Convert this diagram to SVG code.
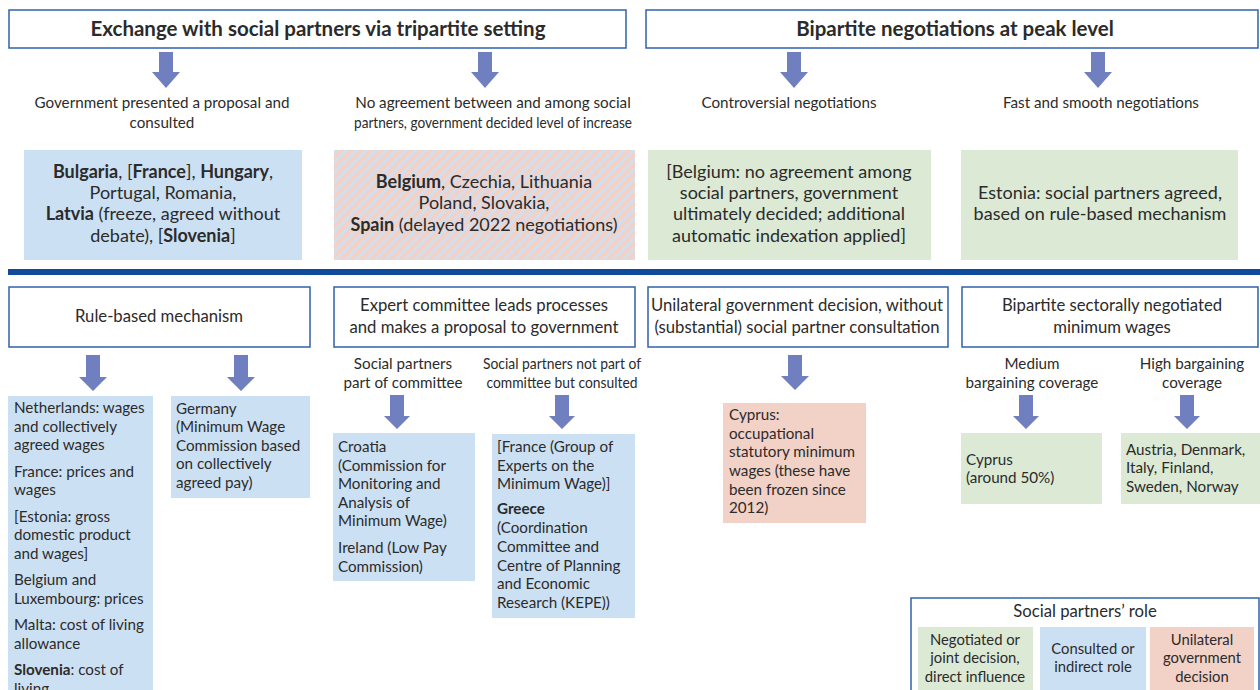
<svg xmlns="http://www.w3.org/2000/svg" width="1260" height="690" viewBox="0 0 1260 690">
<defs>
<pattern id="hatch" width="7" height="7" patternUnits="userSpaceOnUse" patternTransform="rotate(45)">
<rect width="7" height="7" fill="#f2d1c7"/>
<rect width="2.6" height="7" fill="#cfe0f2"/>
</pattern>
</defs>
<style>
text{font-family:Lato,"Liberation Sans",sans-serif;fill:#2b2b2b}
.hdr{fill:#fff;stroke:#2f62ab;stroke-width:1.5}
.title{font-size:20.5px;font-weight:bold;text-anchor:middle}
.sub{font-size:15.2px;text-anchor:middle}
.mid{font-size:18px;text-anchor:middle}
.h2{font-size:16.7px;text-anchor:middle}
.c{font-size:15.2px}
.b{font-weight:bold}
.blue{fill:#cce0f3}
.green{fill:#dbe9d5}
.pink{fill:#f2d1c7}
.arrow{fill:#6f7fbf}
.lg{font-size:14.8px;text-anchor:middle}
</style>
<rect width="1260" height="690" fill="#fff"/>

<g id="connectors">
<path class="arrow" d="M159,52H173V72H180L166,88L152,72H159Z"/>
<path class="arrow" d="M478,52H492V72H499L485,88L471,72H478Z"/>
<path class="arrow" d="M787,52H801V72H808L794,88L780,72H787Z"/>
<path class="arrow" d="M1091,52H1105V72H1112L1098,88L1084,72H1091Z"/>
<path class="arrow" d="M86,355H100V377H107L93,391L79,377H86Z"/>
<path class="arrow" d="M234,355H248V377H255L241,391L227,377H234Z"/>
<path class="arrow" d="M390,395H404V416H410L397,429L384,416H390Z"/>
<path class="arrow" d="M555,395H569V416H575L562,429L549,416H555Z"/>
<path class="arrow" d="M788,355H802V376H809L795,390L781,376H788Z"/>
<path class="arrow" d="M1019,395H1033V416H1039L1026,429L1013,416H1019Z"/>
<path class="arrow" d="M1180,395H1194V416H1200L1187,429L1174,416H1180Z"/>
</g>

<g id="tripartite">
<rect class="hdr" x="9" y="10" width="617" height="38"/>
<text class="title" x="318" y="36">Exchange with social partners via tripartite setting</text>
</g>
<g id="bipartite-peak">
<rect class="hdr" x="646" y="10" width="612" height="38"/>
<text class="title" x="955" y="36">Bipartite negotiations at peak level</text>
</g>

<g id="label-gov-proposal">
<text class="sub" x="162" y="108">Government presented a proposal and</text>
<text class="sub" x="162" y="128">consulted</text>
</g>
<g id="label-no-agreement">
<text class="sub" x="493" y="108">No agreement between and among social</text>
<text class="sub" x="493" y="128" textLength="278" lengthAdjust="spacingAndGlyphs">partners, government decided level of increase</text>
</g>
<g id="label-controversial">
<text class="sub" x="789" y="108">Controversial negotiations</text>
</g>
<g id="label-fast">
<text class="sub" x="1101" y="108">Fast and smooth negotiations</text>
</g>

<g id="box-consulted">
<rect class="blue" x="24" y="150" width="278" height="110"/>
<text class="mid" x="163" y="178"><tspan class="b">Bulgaria</tspan>, [<tspan class="b">France</tspan>], <tspan class="b">Hungary</tspan>,</text>
<text class="mid" x="163" y="199">Portugal, Romania,</text>
<text class="mid" x="163" y="220"><tspan class="b">Latvia</tspan> (freeze, agreed without</text>
<text class="mid" x="163" y="242">debate), [<tspan class="b">Slovenia</tspan>]</text>
</g>
<g id="box-no-agreement">
<rect fill="url(#hatch)" x="334" y="150" width="301" height="110"/>
<text class="mid" x="484" y="188"><tspan class="b">Belgium</tspan>, Czechia, Lithuania</text>
<text class="mid" x="484" y="209">Poland, Slovakia,</text>
<text class="mid" x="484" y="231"><tspan class="b">Spain</tspan> (delayed 2022 negotiations)</text>
</g>
<g id="box-controversial">
<rect class="green" x="648" y="150" width="283" height="110"/>
<text class="mid" x="789" y="178">[Belgium: no agreement among</text>
<text class="mid" x="789" y="199">social partners, government</text>
<text class="mid" x="789" y="220">ultimately decided; additional</text>
<text class="mid" x="789" y="242">automatic indexation applied]</text>
</g>
<g id="box-fast">
<rect class="green" x="961" y="150" width="277" height="110"/>
<text class="mid" x="1100" y="199">Estonia: social partners agreed,</text>
<text class="mid" x="1100" y="220">based on rule-based mechanism</text>
</g>

<rect id="separator" x="8" y="269" width="1252" height="6" fill="#0e4b9d"/>

<g id="rule-based">
<rect class="hdr" x="9" y="287" width="301" height="60"/>
<text class="h2" x="159" y="322">Rule-based mechanism</text>
</g>
<g id="expert-committee">
<rect class="hdr" x="334" y="287" width="301" height="60"/>
<text class="h2" x="484" y="311">Expert committee leads processes</text>
<text class="h2" x="484" y="333">and makes a proposal to government</text>
</g>
<g id="unilateral">
<rect class="hdr" x="648" y="287" width="300" height="60"/>
<text class="h2" x="797" y="311">Unilateral government decision, without</text>
<text class="h2" x="797" y="333">(substantial) social partner consultation</text>
</g>
<g id="bipartite-sectoral">
<rect class="hdr" x="962" y="287" width="296" height="60"/>
<text class="h2" x="1112" y="311">Bipartite sectorally negotiated</text>
<text class="h2" x="1112" y="333">minimum wages</text>
</g>

<g id="label-part">
<text class="sub" x="403" y="369">Social partners</text>
<text class="sub" x="403" y="388">part of committee</text>
</g>
<g id="label-not-part">
<text class="sub" x="562" y="369" textLength="158" lengthAdjust="spacingAndGlyphs">Social partners not part of</text>
<text class="sub" x="562" y="388" textLength="151" lengthAdjust="spacingAndGlyphs">committee but consulted</text>
</g>
<g id="label-medium">
<text class="sub" x="1032" y="369">Medium</text>
<text class="sub" x="1032" y="388">bargaining coverage</text>
</g>
<g id="label-high">
<text class="sub" x="1192" y="369">High bargaining</text>
<text class="sub" x="1192" y="388">coverage</text>
</g>

<g id="box-rules">
<rect class="blue" x="8" y="396" width="145" height="300"/>
<text class="c" x="14" y="413">Netherlands: wages</text>
<text class="c" x="14" y="432">and collectively</text>
<text class="c" x="14" y="450">agreed wages</text>
<text class="c" x="14" y="477">France: prices and</text>
<text class="c" x="14" y="495">wages</text>
<text class="c" x="14" y="522">[Estonia: gross</text>
<text class="c" x="14" y="540">domestic product</text>
<text class="c" x="14" y="559">and wages]</text>
<text class="c" x="14" y="585">Belgium and</text>
<text class="c" x="14" y="604">Luxembourg: prices</text>
<text class="c" x="14" y="630">Malta: cost of living</text>
<text class="c" x="14" y="649">allowance</text>
<text class="c" x="14" y="675"><tspan class="b">Slovenia</tspan>: cost of</text>
<text class="c" x="14" y="694">living</text>
</g>
<g id="box-germany">
<rect class="blue" x="171" y="396" width="139" height="102"/>
<text class="c" x="176" y="414">Germany</text>
<text class="c" x="176" y="432">(Minimum Wage</text>
<text class="c" x="176" y="451">Commission based</text>
<text class="c" x="176" y="469">on collectively</text>
<text class="c" x="176" y="488">agreed pay)</text>
</g>
<g id="box-croatia">
<rect class="blue" x="333" y="433" width="142" height="148"/>
<text class="c" x="338" y="452">Croatia</text>
<text class="c" x="338" y="471">(Commission for</text>
<text class="c" x="338" y="489">Monitoring and</text>
<text class="c" x="338" y="508">Analysis of</text>
<text class="c" x="338" y="526">Minimum Wage)</text>
<text class="c" x="338" y="553">Ireland (Low Pay</text>
<text class="c" x="338" y="572">Commission)</text>
</g>
<g id="box-france-greece">
<rect class="blue" x="492" y="434" width="143" height="184"/>
<text class="c" x="497" y="452">[France (Group of</text>
<text class="c" x="497" y="471">Experts on the</text>
<text class="c" x="497" y="489">Minimum Wage)]</text>
<text class="c b" x="497" y="514">Greece</text>
<text class="c" x="497" y="533">(Coordination</text>
<text class="c" x="497" y="552">Committee and</text>
<text class="c" x="497" y="571">Centre of Planning</text>
<text class="c" x="497" y="589">and Economic</text>
<text class="c" x="497" y="608">Research (KEPE))</text>
</g>
<g id="box-cyprus-statutory">
<rect class="pink" x="723" y="403" width="143" height="120"/>
<text class="c" x="729" y="420">Cyprus:</text>
<text class="c" x="729" y="439">occupational</text>
<text class="c" x="729" y="457">statutory minimum</text>
<text class="c" x="729" y="476">wages (these have</text>
<text class="c" x="729" y="495">been frozen since</text>
<text class="c" x="729" y="513">2012)</text>
</g>
<g id="box-cyprus-medium">
<rect class="green" x="961" y="433" width="141" height="71"/>
<text class="c" x="966" y="465">Cyprus</text>
<text class="c" x="966" y="483">(around 50%)</text>
</g>
<g id="box-high">
<rect class="green" x="1121" y="433" width="139" height="71"/>
<text class="c" x="1126" y="455">Austria, Denmark,</text>
<text class="c" x="1126" y="473">Italy, Finland,</text>
<text class="c" x="1126" y="492">Sweden, Norway</text>
</g>

<g id="legend">
<rect class="hdr" x="911" y="598" width="348" height="100"/>
<text class="h2" x="1085" y="617">Social partners’ role</text>
<rect class="green" x="918" y="627" width="115" height="70"/>
<rect class="blue" x="1040" y="627" width="106" height="70"/>
<rect class="pink" x="1150" y="627" width="104" height="70"/>
<text class="lg" x="975" y="645">Negotiated or</text>
<text class="lg" x="975" y="663">joint decision,</text>
<text class="lg" x="975" y="682">direct influence</text>
<text class="lg" x="1093" y="654">Consulted or</text>
<text class="lg" x="1093" y="672">indirect role</text>
<text class="lg" x="1202" y="645">Unilateral</text>
<text class="lg" x="1202" y="663">government</text>
<text class="lg" x="1202" y="682">decision</text>
</g>
</svg>
